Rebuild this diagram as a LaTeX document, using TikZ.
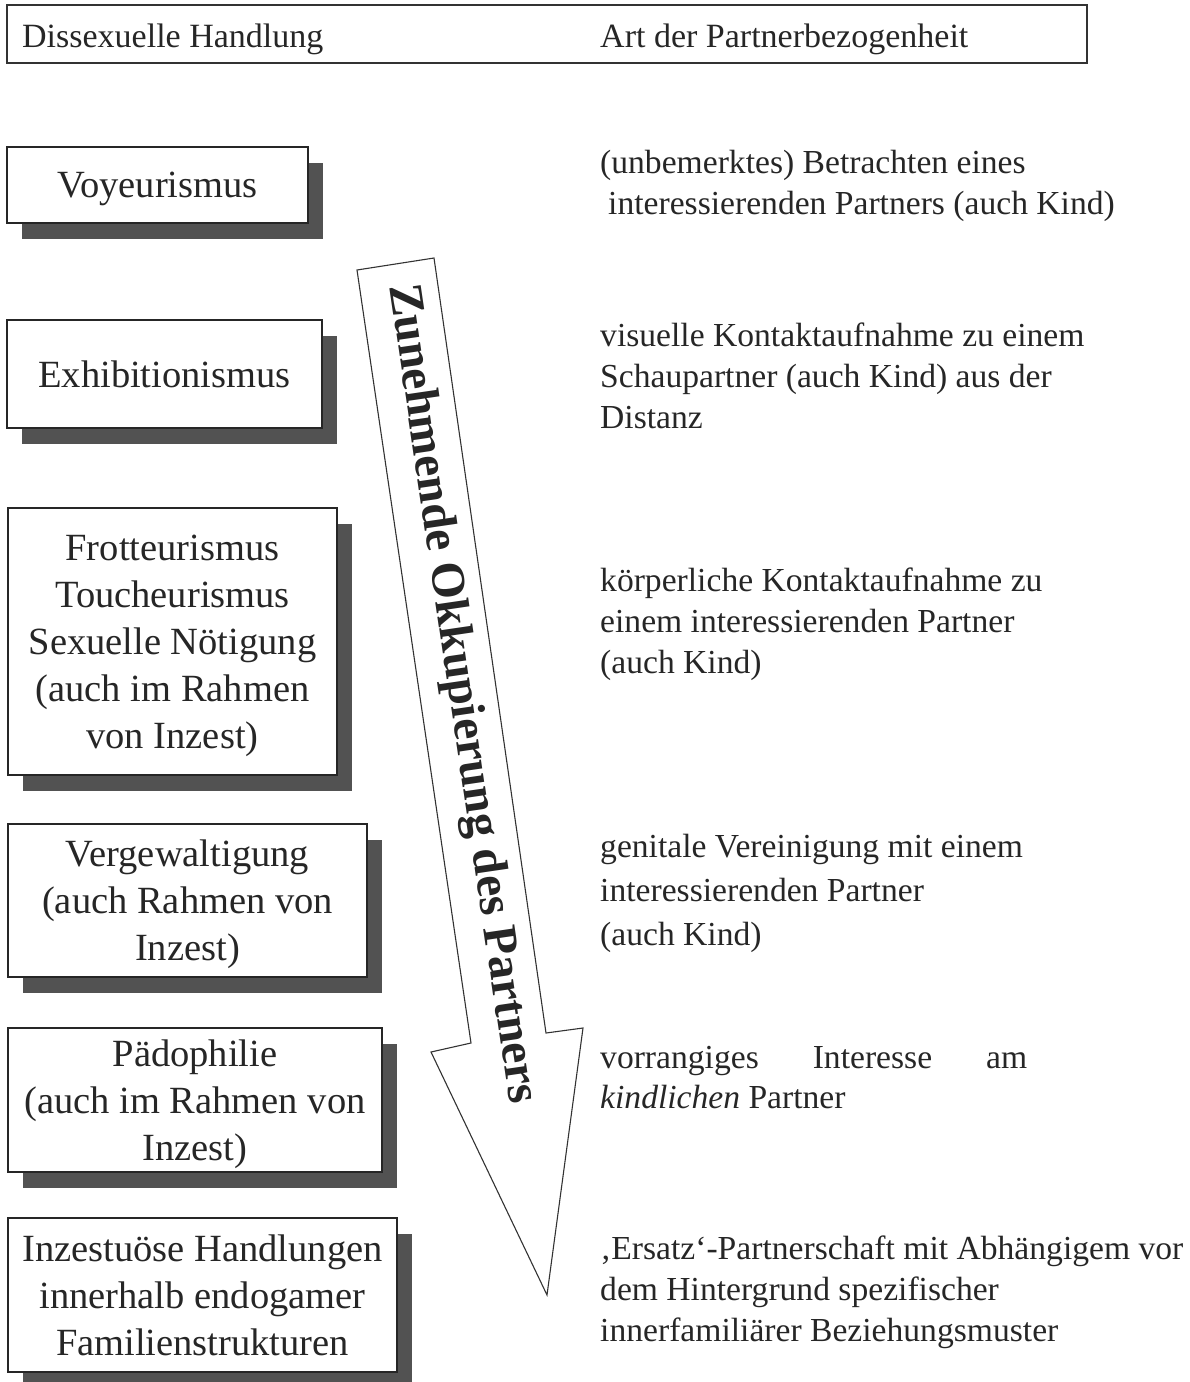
\documentclass[tikz,border=0pt]{standalone}
\usepackage{fontspec}
\setmainfont{Liberation Serif}
\usetikzlibrary{shadows}

\begin{document}
\begin{tikzpicture}[x=1pt, y=-1pt,
  tatbox/.style={draw=black!85, line width=1.3pt, fill=white, align=center, inner sep=0pt,
    text=black!85, font=\fontsize{38.5}{47}\selectfont, text depth=0pt,
    drop shadow={shadow xshift=15pt, shadow yshift=-16pt, fill=black!68, opacity=1}},
  bezug/.style={anchor=base west, align=left, inner sep=0pt, text=black!85,
    font=\fontsize{33.6}{41}\selectfont},
  kopf/.style={anchor=base west, inner sep=0pt, text=black!85, font=\fontsize{34}{38}\selectfont},
  pfeil/.style={draw=black!80, line width=1.1pt, fill=white}]

\useasboundingbox (0,0) rectangle (1190,1382);

% -------- Kopfzeile -----------
\draw [draw=black!80, line width=1.4pt] (7,5) rectangle (1087,63);
\node [kopf] (kopf-links)  at (22,47)  {Dissexuelle Handlung};
\node [kopf] (kopf-rechts) at (600,47) {Art der Partnerbezogenheit};

% -------- Pfeil -----------
\draw [pfeil] (357,270) -- (434,258) -- (546,1033) -- (583,1028) -- (547,1295)
   -- (431,1052) -- (471,1043) -- cycle;
\node [inner sep=0pt, text=black!85, rotate=-81.64, font=\fontsize{48}{50}\selectfont\bfseries]
   (zunahme) at (461,694) {Zunehmende Okkupierung des Partners};

% -------- Handlungen -----------
\node [tatbox, minimum width=301, minimum height=76]  (voy) at (157.5,185) {Voyeurismus};
\node [tatbox, minimum width=315, minimum height=108] (exh) at (164.5,374) {Exhibitionismus};
\node [tatbox, minimum width=329, minimum height=267] (fro) at (172.5,641.5)
   {Frotteurismus\\Toucheurismus\\Sexuelle Nötigung\\(auch im Rahmen\\von Inzest)};
\node [tatbox, minimum width=359, minimum height=153] (ver) at (187.5,900.5)
   {Vergewaltigung\\(auch Rahmen von\\Inzest)};
\node [tatbox, minimum width=374, minimum height=144] (pae) at (195,1100)
   {Pädophilie\\(auch im Rahmen von\\Inzest)};
\node [tatbox, minimum width=389, minimum height=154] (inz) at (202.5,1295)
   {Inzestuöse Handlungen\\innerhalb endogamer\\Familienstrukturen};

% -------- Partnerbezogenheit (Grundlinie der letzten Zeile) -----------
\node [bezug] (b-voy) at (600,214)
   {(unbemerktes) Betrachten eines\\\hspace*{8pt}interessierenden Partners (auch Kind)};
\node [bezug] (b-exh) at (600,428)
   {visuelle Kontaktaufnahme zu einem\\Schaupartner (auch Kind) aus der\\Distanz};
\node [bezug] (b-fro) at (600,673)
   {körperliche Kontaktaufnahme zu\\einem interessierenden Partner\\(auch Kind)};
\node [bezug, font=\fontsize{33.6}{44}\selectfont] (b-ver) at (600,945)
   {genitale Vereinigung mit einem\\interessierenden Partner\\(auch Kind)};
\node [bezug, font=\fontsize{33.6}{40}\selectfont] (b-pae) at (600,1108)
   {\makebox[427pt][s]{vorrangiges Interesse am}\\\textit{kindlichen} Partner};
\node [bezug] (b-inz) at (600,1341)
   {‚Ersatz‘-Partnerschaft mit Abhängigem vor\\dem Hintergrund spezifischer\\innerfamiliärer Beziehungsmuster};

\end{tikzpicture}
\end{document}
